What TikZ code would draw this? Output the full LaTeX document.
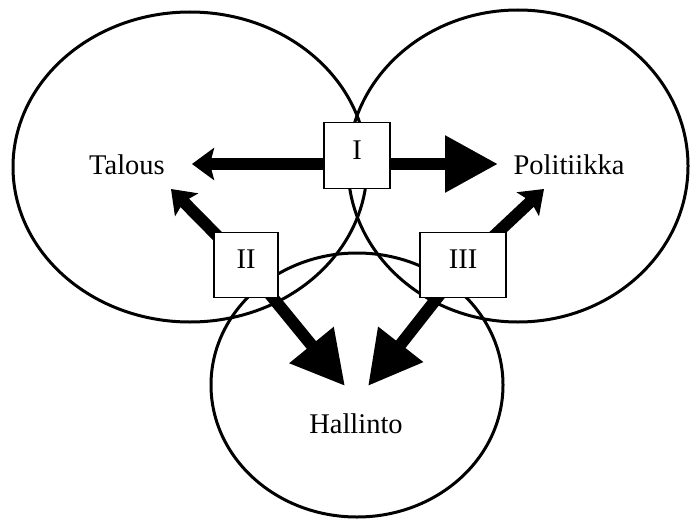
\documentclass[tikz,border=0pt]{standalone}
\usepackage{fontspec}
\setmainfont{Liberation Serif}
\usetikzlibrary{arrows.meta,backgrounds}
\begin{document}
\begin{tikzpicture}[x=1pt,y=-1pt,
  lbl/.style={font=\fontsize{28.5}{34}\selectfont, inner sep=0pt},
  numbox/.style={draw, line width=1.8pt, fill=white, font=\fontsize{28.5}{34}\selectfont,
    inner sep=0pt, text depth=11pt, minimum height=65pt},
  ring/.style={line width=3pt},
  fatarrow/.style={line width=12pt},
  smallhead/.style={-{Stealth[length=22pt,width=32pt,inset=4pt]}},
  bighead/.style={-{Triangle[length=53pt,width=54pt]}}
]
\useasboundingbox (0,0) rectangle (690,519);
\node[lbl, anchor=base] (tal) at (127,174) {Talous};
\node[lbl, anchor=base] (pol) at (569,174) {Politiikka};
\node[lbl, anchor=base] (hal) at (356,433) {Hallinto};
\node[numbox, minimum width=66pt, minimum height=66pt] (I) at (357,155.5) {I};
\node[numbox, minimum width=64pt] (II) at (246,265) {II};
\node[numbox, minimum width=86pt] (III) at (463,265) {III};
\coordinate (tL) at (192,164);
\coordinate (tR) at (498,164);
\coordinate (t2) at (171,189);
\coordinate (t3) at (544,189);
\coordinate (h2) at (345,386);
\coordinate (h3) at (368,386);
\begin{scope}[on background layer]
  \fill[white] (0,0) rectangle (690,519);
  \draw[ring] (190,167) ellipse [x radius=177pt, y radius=155pt];
  \draw[ring] (518,166) ellipse [x radius=170pt, y radius=156pt];
  \draw[ring] (357,385) ellipse [x radius=146pt, y radius=132pt];
  \draw[fatarrow, smallhead] (I.center |- tL) -- (tL);
  \draw[fatarrow, bighead] (I.center |- tR) -- (tR);
  \draw[fatarrow, smallhead] (II.center) -- (t2);
  \draw[fatarrow, bighead] (II.center) -- (h2);
  \draw[fatarrow, smallhead] (III.center) -- (t3);
  \draw[fatarrow, bighead] (III.center) -- (h3);
\end{scope}
\end{tikzpicture}
\end{document}
